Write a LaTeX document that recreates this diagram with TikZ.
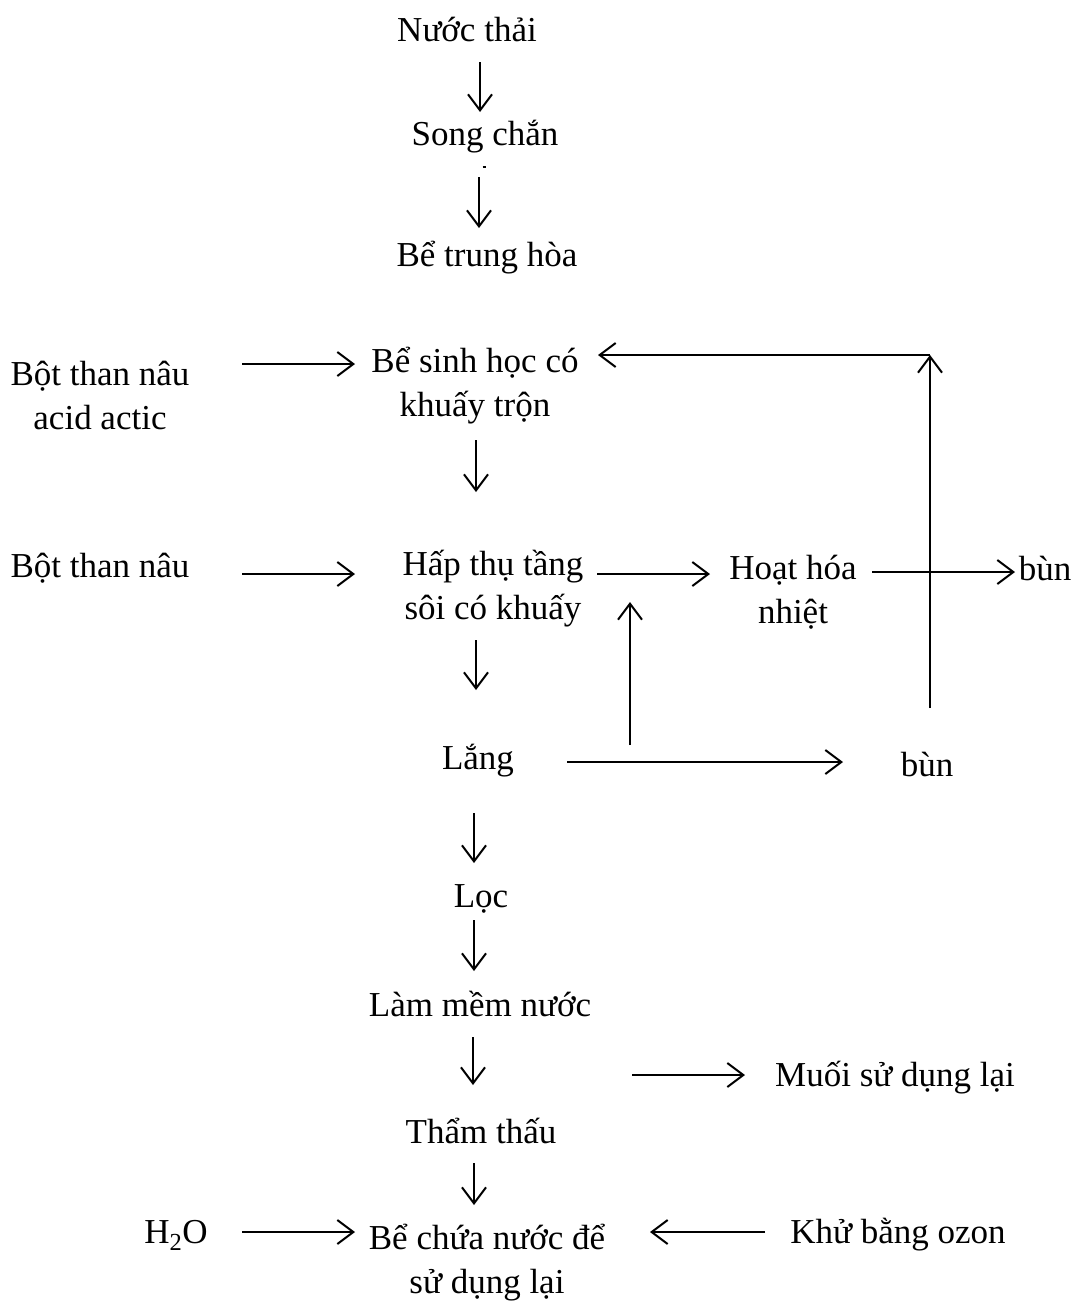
\documentclass[tikz,border=0pt]{standalone}
\usepackage{fontspec}
\setmainfont{Liberation Serif}
\usetikzlibrary{arrows.meta}
\tikzset{
  lbl/.style={inner sep=0pt, outer sep=0pt, anchor=base, align=center,
    font=\fontsize{35}{44}\selectfont},
  flow/.style={line width=2pt, -{Straight Barb[length=16pt,width=24pt,line width=2pt]}}
}
\begin{document}
\begin{tikzpicture}[x=1pt,y=-1pt]
\useasboundingbox (0,0) rectangle (1088,1302);

% process steps (anchored on the baseline of their last line)
\node[lbl] (nt)   at (467,41)  {Nước thải};
\node[lbl] (sc)   at (485,145) {Song chắn};
\node[lbl] (bth)  at (487,266) {Bể trung hòa};
\node[lbl] (bth1) at (100,429) {Bột than nâu\\acid actic};
\node[lbl] (bsh)  at (475,416) {Bể sinh học có\\khuấy trộn};
\node[lbl] (bth2) at (100,577) {Bột than nâu};
\node[lbl] (htt)  at (493,619) {Hấp thụ tầng\\sôi có khuấy};
\node[lbl] (hhn)  at (793,623) {Hoạt hóa\\nhiệt};
\node[lbl] (bun1) at (1045,580) {bùn};
\node[lbl] (lang) at (478,769) {Lắng};
\node[lbl] (bun2) at (927,776) {bùn};
\node[lbl] (loc)  at (481,907) {Lọc};
\node[lbl] (lmn)  at (480,1016) {Làm mềm nước};
\node[lbl] (muoi) at (895,1086) {Muối sử dụng lại};
\node[lbl] (tt)   at (481,1143) {Thẩm thấu};
\node[lbl] (h2o)  at (176,1243) {H\textsubscript{2}O};
\node[lbl] (bcn)  at (487,1293) {Bể chứa nước để\\sử dụng lại};
\node[lbl] (ozon) at (898,1243) {Khử bằng ozon};

% connector end points
\coordinate (a1s) at (480,62);   \coordinate (a1e) at (480,112);
\coordinate (a2s) at (479,177);  \coordinate (a2e) at (479,228);
\coordinate (a3s) at (242,364);  \coordinate (a3e) at (355,364);
\coordinate (rb)  at (930,708);  \coordinate (rt)  at (930,355);
\coordinate (a4e) at (598,355);
\coordinate (a5s) at (476,440);  \coordinate (a5e) at (476,492);
\coordinate (a6s) at (242,574);  \coordinate (a6e) at (355,574);
\coordinate (a7s) at (597,574);  \coordinate (a7e) at (710,574);
\coordinate (a8s) at (872,572);  \coordinate (a8e) at (1015,572);
\coordinate (a9s) at (630,745);  \coordinate (a9e) at (630,602);
\coordinate (b1s) at (476,640);  \coordinate (b1e) at (476,690);
\coordinate (b2s) at (567,762);  \coordinate (b2e) at (843,762);
\coordinate (b3s) at (474,813);  \coordinate (b3e) at (474,863);
\coordinate (b4s) at (474,920);  \coordinate (b4e) at (474,971);
\coordinate (b5s) at (473,1037); \coordinate (b5e) at (473,1085);
\coordinate (b6s) at (632,1075); \coordinate (b6e) at (745,1075);
\coordinate (b7s) at (474,1163); \coordinate (b7e) at (474,1205);
\coordinate (b8s) at (242,1232); \coordinate (b8e) at (355,1232);
\coordinate (b9s) at (765,1232); \coordinate (b9e) at (650,1232);
\coordinate (tick) at (484,167);

% small stray mark under the screen
\draw[line width=1.2pt] (tick) ++(-1.5,0) -- ++(3,0);

% connectors
\draw[flow] (a1s) -- (a1e);
\draw[flow] (a2s) -- (a2e);
\draw[flow] (a3s) -- (a3e);
\draw[flow] (rb) -- (rt);
\draw[flow] (rt) -- (a4e);
\draw[flow] (a5s) -- (a5e);
\draw[flow] (a6s) -- (a6e);
\draw[flow] (a7s) -- (a7e);
\draw[flow] (a8s) -- (a8e);
\draw[flow] (a9s) -- (a9e);
\draw[flow] (b1s) -- (b1e);
\draw[flow] (b2s) -- (b2e);
\draw[flow] (b3s) -- (b3e);
\draw[flow] (b4s) -- (b4e);
\draw[flow] (b5s) -- (b5e);
\draw[flow] (b6s) -- (b6e);
\draw[flow] (b7s) -- (b7e);
\draw[flow] (b8s) -- (b8e);
\draw[flow] (b9s) -- (b9e);
\end{tikzpicture}
\end{document}
